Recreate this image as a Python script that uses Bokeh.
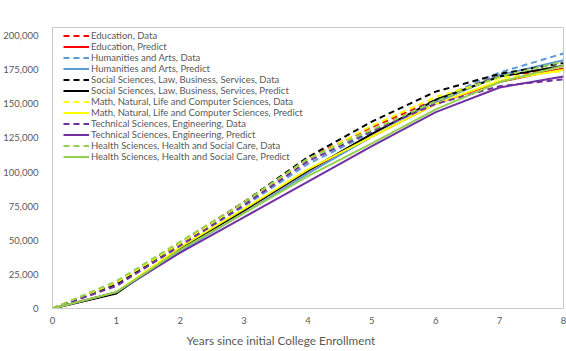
from bokeh.plotting import figure
from bokeh.models import FixedTicker, NumeralTickFormatter, Range1d, Title
from bokeh.embed import file_html
from bokeh.resources import INLINE

years = [0, 1, 2, 3, 4, 5, 6, 7, 8]

education_data = [0, 18500, 48000, 78000, 110000, 133000, 153000, 171000, 175000]
education_pred = [0, 11500, 44000, 72000, 101000, 126000, 150000, 166000, 176000]
humanities_data = [0, 17500, 46000, 75000, 106000, 129000, 153000, 173000, 187000]
humanities_pred = [0, 11500, 42000, 70000, 99000, 126000, 151000, 171000, 182000]
social_data = [0, 18000, 48000, 78000, 111000, 137000, 159000, 172000, 180000]
social_pred = [0, 11000, 44000, 72000, 101000, 128000, 153000, 170000, 178000]
math_data = [0, 19000, 48000, 77000, 109000, 134000, 155000, 169000, 174000]
math_pred = [0, 12000, 45000, 73000, 102000, 126000, 150000, 167000, 175000]
tech_data = [0, 16500, 46000, 76000, 108000, 130000, 150000, 163000, 168000]
tech_pred = [0, 12000, 41000, 67000, 93000, 119000, 144000, 162000, 170000]
health_data = [0, 20000, 49000, 78000, 110000, 131000, 152000, 170000, 181000]
health_pred = [0, 12000, 43000, 70000, 97000, 121000, 146000, 166000, 178000]

y_ticks = [0, 25000, 50000, 75000, 100000, 125000, 150000, 175000, 200000]

series = [
    ("Education, Data", education_data, "#FF0000", True),
    ("Education, Predict", education_pred, "#FF0000", False),
    ("Humanities and Arts, Data", humanities_data, "#5B9BD5", True),
    ("Humanities and Arts, Predict", humanities_pred, "#5B9BD5", False),
    ("Social Sciences, Law, Business, Services, Data", social_data, "#000000", True),
    ("Social Sciences, Law, Business, Services, Predict", social_pred, "#000000", False),
    ("Math, Natural, Life and Computer Sciences, Data", math_data, "#FFFF00", True),
    ("Math, Natural, Life and Computer Sciences, Predict", math_pred, "#FFFF00", False),
    ("Technical Sciences, Engineering, Data", tech_data, "#7030A0", True),
    ("Technical Sciences, Engineering, Predict", tech_pred, "#7030A0", False),
    ("Health Sciences, Health and Social Care, Data", health_data, "#92D050", True),
    ("Health Sciences, Health and Social Care, Predict", health_pred, "#92D050", False),
]

FONT = "Lato"
GREY = "#595959"

p = figure(width=566, height=351, output_backend="svg", toolbar_location=None,
           x_range=Range1d(0, 8), y_range=Range1d(0, 206000),
           min_border_left=51, min_border_right=3, min_border_top=27, min_border_bottom=2)
p.outline_line_color = "#C8C8C8"
p.outline_line_width = 1
p.grid.visible = False
p.background_fill_color = "white"
p.border_fill_color = "white"

for name, vals, color, dashed in series:
    p.line(years, vals, line_color=color, line_width=2,
           line_dash="6 4" if dashed else "solid", legend_label=name)

p.xaxis.ticker = FixedTicker(ticks=years)
p.yaxis.ticker = FixedTicker(ticks=y_ticks)
p.yaxis.formatter = NumeralTickFormatter(format="0,0")
for ax in (p.xaxis, p.yaxis):
    ax.axis_line_color = "#C8C8C8"
    ax.major_tick_line_color = None
    ax.minor_tick_line_color = None
    ax.major_label_text_font = FONT
    ax.major_label_text_font_size = "9.5px"
    ax.major_label_text_color = GREY
p.xaxis.major_label_standoff = 2
p.yaxis.major_label_standoff = 8

t = Title(text="Years since initial College Enrollment", align="left", offset=134,
          text_font=FONT, text_font_size="11.8px", text_font_style="normal",
          text_color=GREY, standoff=8)
p.add_layout(t, "below")

lg = p.legend[0]
lg.location = (11, 146)
lg.background_fill_alpha = 0
lg.border_line_color = None
lg.padding = 0
lg.margin = 0
lg.spacing = 0
lg.glyph_width = 26
lg.glyph_height = 11
lg.label_height = 11
lg.label_standoff = 2
lg.label_text_font = FONT
lg.label_text_font_size = "9.5px"
lg.label_text_color = GREY

open("out.html", "w").write(file_html(p, INLINE))
